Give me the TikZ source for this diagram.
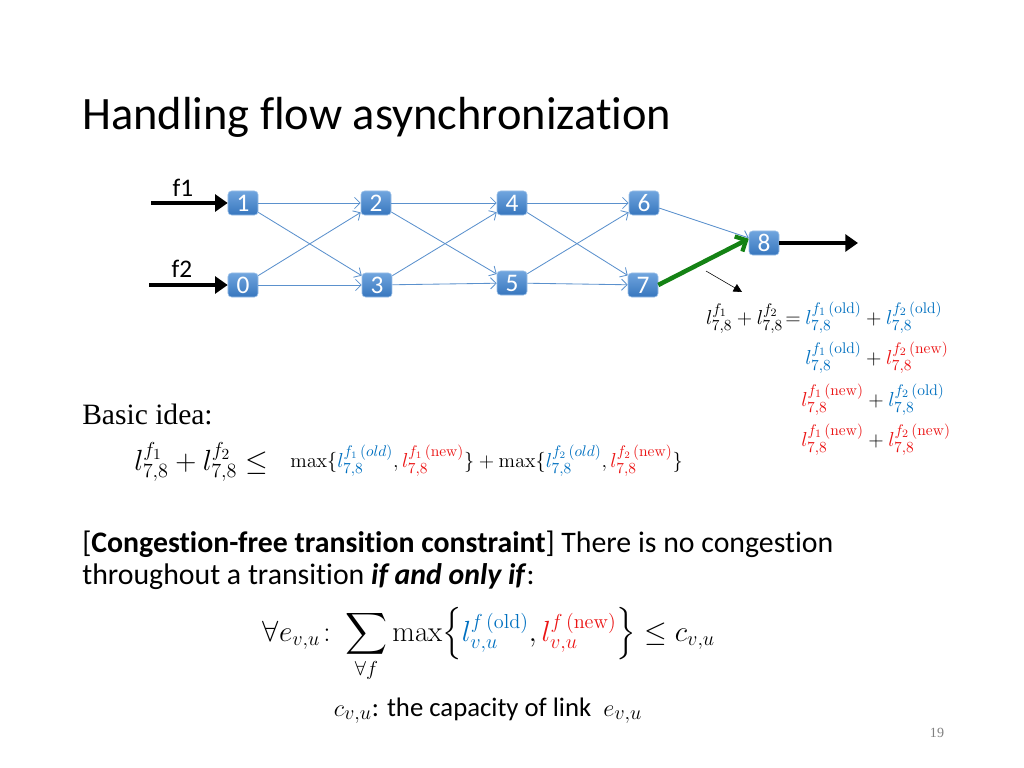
\documentclass[tikz,border=0pt]{standalone}
\usepackage{amsmath}
\usepackage[no-math]{fontspec}
\setmainfont{Carlito}[Ligatures=NoCommon]
\newfontfamily\serifface{Liberation Serif}
\usepackage{xcolor}
\usetikzlibrary{arrows.meta, positioning, calc}

\definecolor{oldblue}{RGB}{0,112,192}
\definecolor{newred}{RGB}{235,20,20}
\definecolor{linkblue}{RGB}{91,145,205}
\definecolor{swtop}{RGB}{112,165,222}
\definecolor{swbot}{RGB}{55,118,190}
\definecolor{movegreen}{RGB}{20,130,20}

\newcommand{\oldl}[2]{\textcolor{oldblue}{l^{#1\,(\mathrm{old})}_{#2}}}
\newcommand{\newl}[2]{\textcolor{newred}{l^{#1\,(\mathrm{new})}_{#2}}}

\begin{document}
\begin{tikzpicture}[
    x=0.025cm, y=-0.025cm,
    sw/.style={rectangle, rounded corners=2.5pt, minimum width=0.75cm,
               minimum height=0.6cm, inner sep=0pt, top color=swtop,
               bottom color=swbot, draw=swtop!70!white, thin, text=white,
               font=\fontsize{18}{18}\selectfont},
    link/.style={-{Straight Barb[length=4pt,width=8pt]}, linkblue, semithick},
    flow/.style={-{Triangle[length=9pt,width=12pt]}, line width=3pt},
    moved/.style={-{Straight Barb[length=6pt,width=12pt,line width=3pt]},
                  movegreen, line width=3.2pt},
    lbl/.style={font=\fontsize{18}{18}\selectfont, inner sep=0pt},
    body/.style={font=\fontsize{21.2}{22.7}\selectfont, inner sep=0pt, anchor=base west}
]
\useasboundingbox (0,0) rectangle (1024,768);

% ---- Title ----
\node[anchor=base west, inner sep=0pt, font=\fontsize{33}{33}\selectfont]
    (title) at (82,130) {Handling flow asynchronization};

% ---- Switches ----
\node[sw] (n1) at (243,203) {1};
\node[sw] (n0) at (243,285) {0};
\node[sw] (n2) at (376,203) {2};
\node[sw] (n3) at (377,285) {3};
\node[sw] (n4) at (512,203) {4};
\node[sw] (n5) at (512,283) {5};
\node[sw] (n6) at (644,203) {6};
\node[sw] (n7) at (643,285) {7};
\node[sw] (n8) at (764,243) {8};

% ---- Flow entry / exit ----
\coordinate (in1) at (151,203);
\coordinate (in2) at (149,285);
\coordinate (out) at (858,243);
\node[lbl, anchor=base] (f1) at (183,196) {f1};
\node[lbl, anchor=base] (f2) at (182,277) {f2};
\draw[flow] (in1) -- (n1);
\draw[flow] (in2) -- (n0);
\draw[flow] (n8) -- (out);

% ---- Links ----
\foreach \a/\b in {n1/n2, n1/n3, n0/n2, n0/n3, n2/n4, n2/n5, n3/n4, n3/n5,
                   n4/n6, n4/n7, n5/n6, n5/n7, n6/n8}
    \draw[link] (\a) -- (\b);
\draw[moved] (n7.east) -- ([yshift=3pt]n8.west);

% ---- Load on link 7-8 ----
\coordinate (pt1) at (706,271);
\coordinate (pt2) at (742,292);
\draw[-{Triangle[length=6pt,width=6pt]}, thin] (pt1) -- (pt2);

\begin{scope}[every node/.style={inner sep=0pt, font=\fontsize{15.5}{15.5}\selectfont}]
\node[anchor=base east] (sum78) at (801,324) {$l^{f_1}_{7,8}+l^{f_2}_{7,8}\!=$};
\node[anchor=base west] (row1) at (805,324) {$\oldl{f_1}{7,8}+\oldl{f_2}{7,8}$};
\node[anchor=base west] (row2) at (805,364) {$\oldl{f_1}{7,8}+\newl{f_2}{7,8}$};
\node[anchor=base west] (row3) at (801,406) {$\newl{f_1}{7,8}+\oldl{f_2}{7,8}$};
\node[anchor=base west] (row4) at (801,446) {$\newl{f_1}{7,8}+\newl{f_2}{7,8}$};
\end{scope}

% ---- Basic idea ----
\node[anchor=base west, inner sep=0pt, font=\serifface\fontsize{21}{21}\selectfont]
    (idea) at (82,424) {Basic idea:};
\node[anchor=base west, inner sep=0pt, font=\fontsize{21.5}{21.5}\selectfont]
    (bound) at (134,470) {$l^{f_1}_{7,8}+l^{f_2}_{7,8}\leq$};
\node[anchor=base west, inner sep=0pt, font=\fontsize{15}{15}\selectfont]
    (maxes) at (290,467) {$\max\{\textcolor{oldblue}{l^{f_1\,(old)}_{7,8}},
        \newl{f_1}{7,8}\}+\max\{\textcolor{oldblue}{l^{f_2\,(old)}_{7,8}},
        \newl{f_2}{7,8}\}$};

% ---- Constraint ----
\node[body, align=left] (cons) at (82,584)
    {[\textbf{Congestion-free transition constraint}] There is no congestion\\
     throughout a transition \textbf{\textit{if and only if}}:};
\node[anchor=base, inner sep=0pt, text height=21pt, text depth=24pt,
      font=\fontsize{22}{22}\selectfont] (eq) at (489,641)
    {$\displaystyle \forall e_{v,u}\colon \sum_{\forall f}\max\Bigl\{\oldl{f}{v,u},
      \newl{f}{v,u}\Bigr\}\leq c_{v,u}$};
\node[anchor=base, inner sep=0pt, font=\fontsize{19}{19}\selectfont] (cap) at (488,716)
    {$c_{v,u}$: the capacity of link\ \ $e_{v,u}$};

\node[anchor=base, inner sep=0pt, text=gray, font=\serifface\fontsize{10}{10}\selectfont]
    (page) at (937,737) {19};
\end{tikzpicture}
\end{document}
